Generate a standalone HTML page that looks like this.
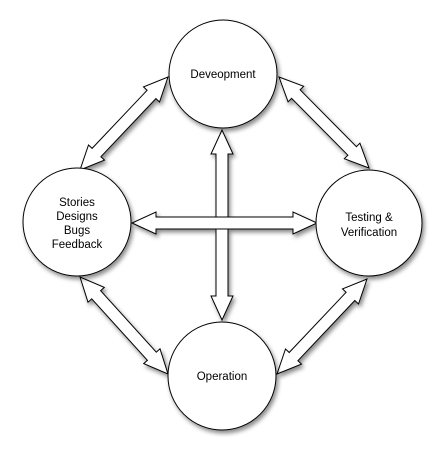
<!DOCTYPE html>
<html><head><style>
html,body{margin:0;padding:0;background:#fff;width:447px;height:460px;overflow:hidden}
text{font-family:"Liberation Sans",sans-serif;font-size:11.5px;fill:#000}
</style></head><body>
<svg width="447" height="460" viewBox="0 0 447 460">
<defs>
<filter id="sh" x="-30%" y="-30%" width="160%" height="160%">
<feDropShadow dx="2" dy="3" stdDeviation="2.2" flood-color="#000" flood-opacity="0.45"/>
</filter>
</defs>
<g id="arrows" fill="#fff" stroke="#000" stroke-width="1" filter="url(#sh)"></g>
<g fill="#fff" stroke="#000" stroke-width="1" filter="url(#sh)">
<circle cx="223" cy="74" r="54"/>
<circle cx="77" cy="222" r="54"/>
<circle cx="369" cy="223" r="53"/>
<circle cx="222" cy="376" r="54"/>
</g>
<text x="223" y="78" text-anchor="middle">Deveopment</text>
<text x="77" y="206" text-anchor="middle">Stories</text>
<text x="77" y="220" text-anchor="middle">Designs</text>
<text x="77" y="234" text-anchor="middle">Bugs</text>
<text x="77" y="248" text-anchor="middle">Feedback</text>
<text x="369" y="221" text-anchor="middle">Testing &amp;</text>
<text x="369" y="236" text-anchor="middle">Verification</text>
<text x="222" y="380" text-anchor="middle">Operation</text>
</svg>
<script>
function arrow(x1,y1,x2,y2){
 var dx=x2-x1,dy=y2-y1,L=Math.hypot(dx,dy),ux=dx/L,uy=dy/L,nx=-uy,ny=ux;
 var s=6,h=11,hl=24;
 function p(t,o){return (x1+ux*t+nx*o).toFixed(1)+","+(y1+uy*t+ny*o).toFixed(1);}
 var pts=[p(0,0),p(hl,h),p(hl,s),p(L-hl,s),p(L-hl,h),p(L,0),p(L-hl,-h),p(L-hl,-s),p(hl,-s),p(hl,-h)];
 var el=document.createElementNS("http://www.w3.org/2000/svg","polygon");
 el.setAttribute("points",pts.join(" "));
 document.getElementById("arrows").appendChild(el);
}
arrow(80,170,168,77);
arrow(279,77,369,168);
arrow(80,277,168,374);
arrow(277,374,367,279);
arrow(222,130,222,320);
arrow(132,223,317,223);
</script>
</body></html>
